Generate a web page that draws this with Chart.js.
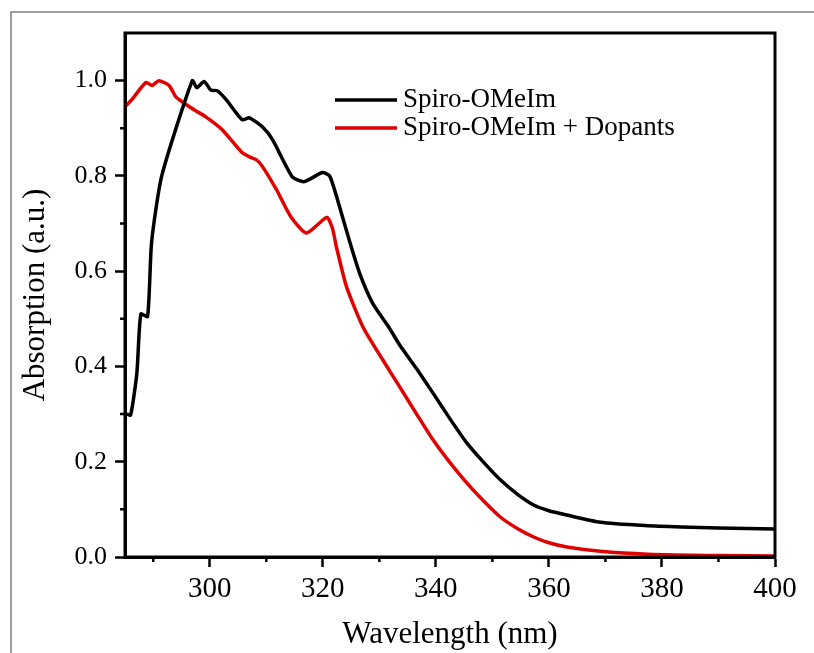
<!DOCTYPE html>
<html>
<head>
<meta charset="utf-8">
<script src="https://cdn.jsdelivr.net/npm/chart.js@4.4.1/dist/chart.umd.min.js"></script>
<style>
  html, body { margin: 0; padding: 0; background: #fff; }
  #wrap { width: 814px; height: 653px; position: relative; }
</style>
</head>
<body>
<div id="wrap"><canvas id="absChart" width="814" height="653"></canvas></div>
<script>
// wavelengths (nm) and absorption
var spiroWl  = [285.3, 286.0, 287.1, 287.8, 289.0, 289.7, 291.5, 296.9, 297.7, 299.0, 300.2, 301.3, 302.9, 305.7, 307.0, 309.3, 311.1, 314.6, 316.7, 319.9, 321.2, 322.6, 324.8, 326.5, 328.8, 331.8, 333.6, 336.6, 339.5, 342.5, 345.5, 348.5, 351.4, 354.4, 357.3, 360.0, 363.2, 369.1, 377.0, 383.4, 390.0, 400.0];
var spiroAbs = [0.300, 0.298, 0.386, 0.510, 0.505, 0.660, 0.800, 1.000, 0.985, 0.998, 0.980, 0.979, 0.960, 0.918, 0.922, 0.903, 0.876, 0.798, 0.788, 0.807, 0.800, 0.750, 0.660, 0.596, 0.533, 0.480, 0.445, 0.395, 0.344, 0.290, 0.239, 0.198, 0.162, 0.132, 0.109, 0.097, 0.088, 0.073, 0.066, 0.063, 0.061, 0.059];

var dopedWl  = [285.0, 286.2, 288.7, 289.8, 291.0, 292.8, 294.0, 295.8, 297.5, 299.3, 302.2, 305.7, 307.0, 308.2, 309.3, 311.8, 314.3, 317.1, 320.7, 321.7, 322.4, 324.2, 327.1, 330.6, 333.6, 336.6, 339.5, 342.5, 345.5, 348.5, 351.4, 354.4, 357.3, 360.0, 363.2, 369.1, 377.5, 390.0, 400.0];
var dopedAbs = [0.945, 0.960, 0.996, 0.990, 1.000, 0.990, 0.966, 0.950, 0.937, 0.924, 0.897, 0.849, 0.840, 0.834, 0.820, 0.771, 0.715, 0.680, 0.713, 0.690, 0.651, 0.567, 0.483, 0.414, 0.357, 0.300, 0.246, 0.198, 0.155, 0.117, 0.084, 0.060, 0.042, 0.030, 0.021, 0.012, 0.006, 0.003, 0.002];

var seriesNames = ['Spiro-OMeIm', 'Spiro-OMeIm + Dopants'];
var xTicks = [300, 320, 340, 360, 380, 400];
var xMinor = [290, 310, 330, 350, 370, 390];
var yTicks = [0, 0.2, 0.4, 0.6, 0.8, 1.0];
var yMinor = [0.1, 0.3, 0.5, 0.7, 0.9];

function toPoints(xs, ys) {
  var pts = [];
  for (var i = 0; i < xs.length; i++) pts.push({ x: xs[i], y: ys[i] });
  return pts;
}

var serif = "'Liberation Serif', 'Times New Roman', serif";

// outer gray frame, box around plot, minor ticks, legend
var decor = {
  id: 'decor',
  beforeDraw: function (chart) {
    var ctx = chart.ctx;
    ctx.save();
    ctx.strokeStyle = '#808080';
    ctx.lineWidth = 1.5;
    ctx.beginPath();
    ctx.moveTo(11, 653);
    ctx.lineTo(11, 12);
    ctx.lineTo(814, 12);
    ctx.stroke();
    ctx.restore();
  },
  afterDraw: function (chart) {
    var ctx = chart.ctx, a = chart.chartArea;
    var xs = chart.scales.x, ys = chart.scales.y;
    ctx.save();
    ctx.strokeStyle = '#000';
    ctx.lineWidth = 3;
    ctx.strokeRect(a.left, a.top, a.right - a.left, a.bottom - a.top);

    ctx.lineWidth = 2.5;
    ctx.beginPath();
    xMinor.forEach(function (v) {
      var px = xs.getPixelForValue(v);
      ctx.moveTo(px, a.bottom);
      ctx.lineTo(px, a.bottom + 5);
    });
    yMinor.forEach(function (v) {
      var py = ys.getPixelForValue(v);
      ctx.moveTo(a.left, py);
      ctx.lineTo(a.left - 5, py);
    });
    ctx.stroke();

    // legend
    ctx.font = '27px ' + serif;
    ctx.textBaseline = 'alphabetic';
    ctx.fillStyle = '#000';
    chart.data.datasets.forEach(function (ds, i) {
      var ly = 100 + i * 28;
      ctx.strokeStyle = ds.borderColor;
      ctx.lineWidth = 3.5;
      ctx.beginPath();
      ctx.moveTo(335, ly);
      ctx.lineTo(397, ly);
      ctx.stroke();
      ctx.fillText(ds.label, 403, ly + 7);
    });
    ctx.restore();
  }
};

new Chart(document.getElementById('absChart'), {
  type: 'scatter',
  data: {
    datasets: [{
      label: seriesNames[0],
      data: toPoints(spiroWl, spiroAbs),
      showLine: true,
      borderColor: '#000000',
      borderWidth: 3.5,
      pointRadius: 0,
      tension: 0.2
    }, {
      label: seriesNames[1],
      data: toPoints(dopedWl, dopedAbs),
      showLine: true,
      borderColor: '#e10000',
      borderWidth: 3.5,
      pointRadius: 0,
      tension: 0.2
    }]
  },
  options: {
    responsive: false,
    devicePixelRatio: 1,
    animation: false,
    layout: { padding: { left: 0, top: 33, right: 39, bottom: 0 } },
    plugins: { legend: { display: false }, tooltip: { enabled: false } },
    scales: {
      x: {
        type: 'linear',
        min: 285,
        max: 400,
        afterBuildTicks: function (axis) {
          axis.ticks = xTicks.map(function (v) { return { value: v }; });
        },
        afterFit: function (axis) { axis.height = 96; },
        grid: { drawOnChartArea: false, color: '#000', tickLength: 10, tickWidth: 2.5 },
        border: { color: '#000', width: 3 },
        ticks: { color: '#000', padding: 5, maxRotation: 0, font: { family: serif, size: 29 } },
        title: { display: true, text: 'Wavelength (nm)', color: '#000', padding: { top: 0, bottom: 0 }, font: { family: serif, size: 31 } }
      },
      y: {
        type: 'linear',
        min: 0,
        max: 1.1,
        afterBuildTicks: function (axis) {
          axis.ticks = yTicks.map(function (v) { return { value: v }; });
        },
        afterFit: function (axis) { axis.width = 125; },
        grid: { drawOnChartArea: false, color: '#000', tickLength: 10, tickWidth: 2.5 },
        border: { color: '#000', width: 3 },
        ticks: {
          color: '#000', padding: 8, font: { family: serif, size: 26 },
          callback: function (v) { return Number(v).toFixed(1); }
        },
        title: { display: true, text: 'Absorption (a.u.)', color: '#000', padding: { top: 17, bottom: 0 }, font: { family: serif, size: 31 } }
      }
    }
  },
  plugins: [decor]
});
</script>
</body>
</html>
